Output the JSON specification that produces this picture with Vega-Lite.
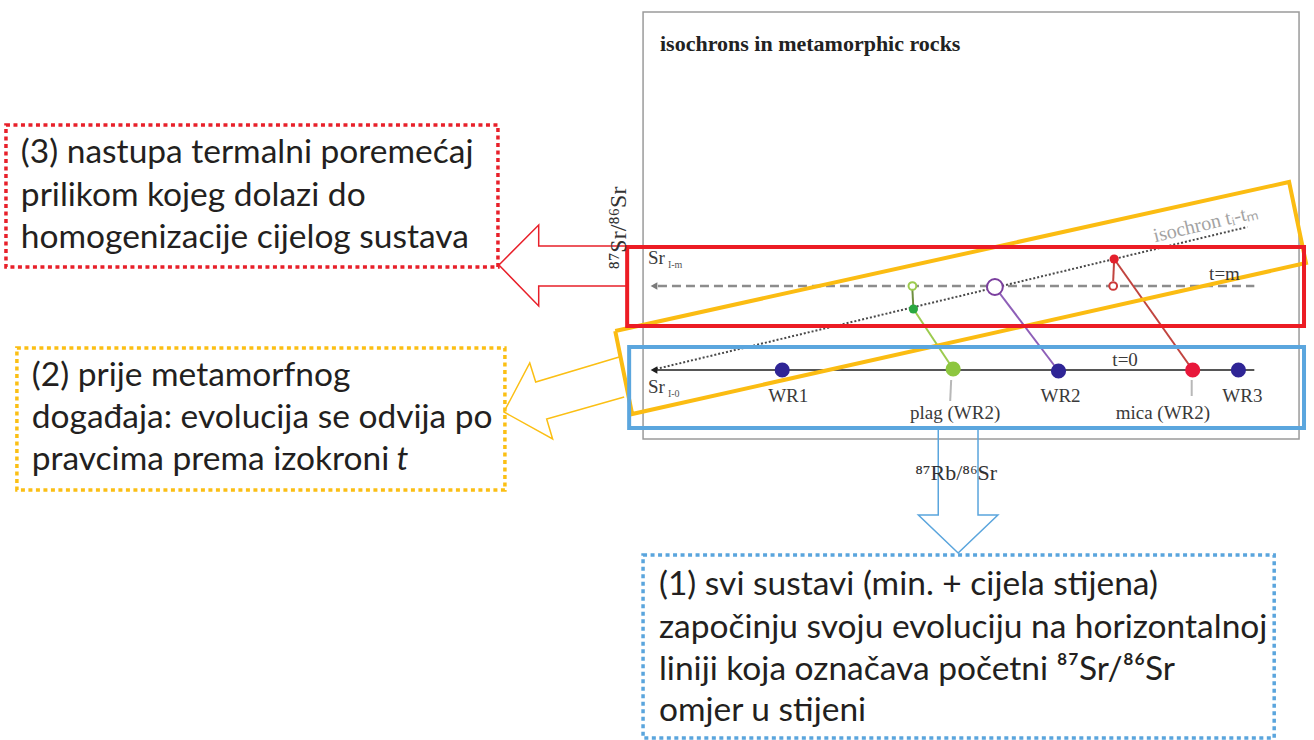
{
  "$schema": "https://vega.github.io/schema/vega-lite/v6.json",
  "width": 1314,
  "height": 740,
  "autosize": {"type": "fit", "contains": "padding"},
  "padding": 0,
  "background": "white",
  "config": {"view": {"stroke": null}},
  "resolve": {"scale": {"color": "independent", "size": "independent", "stroke": "independent"}},
  "layer": [
    {
      "data": {"values": [{"name": "frame", "x": 647, "x2": 1307, "y": 12, "y2": 439}]},
      "mark": {"type": "rect", "fillOpacity": 0, "stroke": "#9a9a9a", "strokeWidth": 1.5},
      "encoding": {
        "x": {"field": "x", "type": "quantitative", "scale": {"domain": [0, 1314], "nice": false, "zero": false}, "axis": null},
        "x2": {"field": "x2"},
        "y": {"field": "y", "type": "quantitative", "scale": {"domain": [0, 740], "nice": false, "zero": false, "reverse": true}, "axis": null},
        "y2": {"field": "y2"}
      }
    },
    {
      "data": {"values": [
        {"name": "d3", "x": 6, "x2": 501, "y": 125, "y2": 267},
        {"name": "d2", "x": 17, "x2": 508, "y": 348, "y2": 490},
        {"name": "d1", "x": 647, "x2": 1282, "y": 555, "y2": 738}
      ]},
      "mark": {"type": "rect", "fillOpacity": 0, "strokeWidth": 3.5, "strokeDash": [4, 3.5]},
      "encoding": {
        "x": {"field": "x", "type": "quantitative", "scale": {"domain": [0, 1314], "nice": false, "zero": false}, "axis": null},
        "x2": {"field": "x2"},
        "y": {"field": "y", "type": "quantitative", "scale": {"domain": [0, 740], "nice": false, "zero": false, "reverse": true}, "axis": null},
        "y2": {"field": "y2"},
        "stroke": {"field": "name", "type": "nominal", "scale": {"domain": ["d3", "d2", "d1"], "range": ["#e8202a", "#fbbf14", "#5aa5dd"]}, "legend": null}
      }
    },
    {
      "data": {"values": [
        {"poly": "redArrow", "ord": 1, "x": 630, "y": 246},
        {"poly": "redArrow", "ord": 2, "x": 542, "y": 246},
        {"poly": "redArrow", "ord": 3, "x": 542, "y": 225},
        {"poly": "redArrow", "ord": 4, "x": 502, "y": 265},
        {"poly": "redArrow", "ord": 5, "x": 542, "y": 306},
        {"poly": "redArrow", "ord": 6, "x": 542, "y": 286},
        {"poly": "redArrow", "ord": 7, "x": 630, "y": 286},
        {"poly": "orangeArrow", "ord": 1, "x": 623, "y": 357},
        {"poly": "orangeArrow", "ord": 2, "x": 539, "y": 382},
        {"poly": "orangeArrow", "ord": 3, "x": 533, "y": 363},
        {"poly": "orangeArrow", "ord": 4, "x": 507, "y": 412},
        {"poly": "orangeArrow", "ord": 5, "x": 556, "y": 439},
        {"poly": "orangeArrow", "ord": 6, "x": 550, "y": 419},
        {"poly": "orangeArrow", "ord": 7, "x": 628, "y": 397},
        {"poly": "blueArrow", "ord": 1, "x": 944, "y": 428},
        {"poly": "blueArrow", "ord": 2, "x": 944, "y": 515},
        {"poly": "blueArrow", "ord": 3, "x": 924, "y": 515},
        {"poly": "blueArrow", "ord": 4, "x": 964, "y": 553},
        {"poly": "blueArrow", "ord": 5, "x": 1004, "y": 515},
        {"poly": "blueArrow", "ord": 6, "x": 984, "y": 515},
        {"poly": "blueArrow", "ord": 7, "x": 984, "y": 428}
      ]},
      "mark": {"type": "line", "strokeWidth": 1.5, "strokeJoin": "miter"},
      "encoding": {
        "x": {"field": "x", "type": "quantitative", "scale": {"domain": [0, 1314], "nice": false, "zero": false}, "axis": null},
        "y": {"field": "y", "type": "quantitative", "scale": {"domain": [0, 740], "nice": false, "zero": false, "reverse": true}, "axis": null},
        "order": {"field": "ord", "type": "quantitative"},
        "detail": {"field": "poly", "type": "nominal"},
        "color": {"field": "poly", "type": "nominal", "scale": {"domain": ["redArrow", "orangeArrow", "blueArrow"], "range": ["#e8202a", "#fbbf14", "#5aa5dd"]}, "legend": null}
      }
    },
    {
      "data": {"values": [
        {"seg": "t0", "x": 660, "y": 370, "x2": 1262, "y2": 370}
      ]},
      "mark": {"type": "rule", "color": "#1e1e1e", "strokeWidth": 1.6},
      "encoding": {
        "x": {"field": "x", "type": "quantitative", "scale": {"domain": [0, 1314], "nice": false, "zero": false}, "axis": null},
        "x2": {"field": "x2"},
        "y": {"field": "y", "type": "quantitative", "scale": {"domain": [0, 740], "nice": false, "zero": false, "reverse": true}, "axis": null},
        "y2": {"field": "y2"}
      }
    },
    {
      "data": {"values": [
        {"seg": "tm", "x": 662, "y": 286, "x2": 1262, "y2": 286}
      ]},
      "mark": {"type": "rule", "color": "#8c8c8c", "strokeWidth": 2.5, "strokeDash": [9, 5]},
      "encoding": {
        "x": {"field": "x", "type": "quantitative", "scale": {"domain": [0, 1314], "nice": false, "zero": false}, "axis": null},
        "x2": {"field": "x2"},
        "y": {"field": "y", "type": "quantitative", "scale": {"domain": [0, 740], "nice": false, "zero": false, "reverse": true}, "axis": null},
        "y2": {"field": "y2"}
      }
    },
    {
      "data": {"values": [
        {"seg": "isochron", "x": 660, "y": 369, "x2": 1255, "y2": 227}
      ]},
      "mark": {"type": "rule", "color": "#4a4a4a", "strokeWidth": 2, "strokeDash": [2, 2]},
      "encoding": {
        "x": {"field": "x", "type": "quantitative", "scale": {"domain": [0, 1314], "nice": false, "zero": false}, "axis": null},
        "x2": {"field": "x2"},
        "y": {"field": "y", "type": "quantitative", "scale": {"domain": [0, 740], "nice": false, "zero": false, "reverse": true}, "axis": null},
        "y2": {"field": "y2"}
      }
    },
    {
      "data": {"values": [
        {"seg": "plagPath", "x": 959, "y": 369, "x2": 919, "y2": 309},
        {"seg": "plagUp", "x": 919, "y": 309, "x2": 918, "y2": 290},
        {"seg": "wr2Path", "x": 1065, "y": 371, "x2": 1001, "y2": 287},
        {"seg": "micaPath", "x": 1200, "y": 370, "x2": 1121, "y2": 259},
        {"seg": "micaDown", "x": 1121, "y": 259, "x2": 1120, "y2": 281},
        {"seg": "plagLeader", "x": 957, "y": 380, "x2": 956, "y2": 401},
        {"seg": "micaLeader", "x": 1199, "y": 380, "x2": 1199, "y2": 396}
      ]},
      "mark": {"type": "rule", "strokeWidth": 2},
      "encoding": {
        "x": {"field": "x", "type": "quantitative", "scale": {"domain": [0, 1314], "nice": false, "zero": false}, "axis": null},
        "x2": {"field": "x2"},
        "y": {"field": "y", "type": "quantitative", "scale": {"domain": [0, 740], "nice": false, "zero": false, "reverse": true}, "axis": null},
        "y2": {"field": "y2"},
        "color": {"field": "seg", "type": "nominal", "scale": {"domain": ["plagPath", "plagUp", "wr2Path", "micaPath", "micaDown", "plagLeader", "micaLeader"], "range": ["#9ccb4e", "#6f8f40", "#8e5fb8", "#c1443f", "#c1443f", "#b8b8b8", "#b8b8b8"]}, "legend": null}
      }
    },
    {
      "data": {"values": [
        {"head": "t0", "x": 658, "y": 370},
        {"head": "tm", "x": 658, "y": 286}
      ]},
      "mark": {"type": "point", "shape": "triangle-left", "filled": true, "size": 60, "opacity": 1},
      "encoding": {
        "x": {"field": "x", "type": "quantitative", "scale": {"domain": [0, 1314], "nice": false, "zero": false}, "axis": null},
        "y": {"field": "y", "type": "quantitative", "scale": {"domain": [0, 740], "nice": false, "zero": false, "reverse": true}, "axis": null},
        "color": {"field": "head", "type": "nominal", "scale": {"domain": ["t0", "tm"], "range": ["#1e1e1e", "#7a7a7a"]}, "legend": null}
      }
    },
    {
      "data": {"values": [
        {"poly": "isoBox", "ord": 1, "x": 619, "y": 331},
        {"poly": "isoBox", "ord": 2, "x": 1297, "y": 182},
        {"poly": "isoBox", "ord": 3, "x": 1314, "y": 263},
        {"poly": "isoBox", "ord": 4, "x": 636, "y": 414},
        {"poly": "isoBox", "ord": 5, "x": 619, "y": 331}
      ]},
      "mark": {"type": "line", "strokeWidth": 4, "color": "#fbbc12", "strokeJoin": "miter"},
      "encoding": {
        "x": {"field": "x", "type": "quantitative", "scale": {"domain": [0, 1314], "nice": false, "zero": false}, "axis": null},
        "y": {"field": "y", "type": "quantitative", "scale": {"domain": [0, 740], "nice": false, "zero": false, "reverse": true}, "axis": null},
        "order": {"field": "ord", "type": "quantitative"},
        "detail": {"field": "poly", "type": "nominal"}
      }
    },
    {
      "data": {"values": [
        {"name": "red", "x": 631, "x2": 1312, "y": 247, "y2": 326},
        {"name": "blue", "x": 633, "x2": 1312, "y": 347, "y2": 428}
      ]},
      "mark": {"type": "rect", "fillOpacity": 0, "strokeWidth": 4},
      "encoding": {
        "x": {"field": "x", "type": "quantitative", "scale": {"domain": [0, 1314], "nice": false, "zero": false}, "axis": null},
        "x2": {"field": "x2"},
        "y": {"field": "y", "type": "quantitative", "scale": {"domain": [0, 740], "nice": false, "zero": false, "reverse": true}, "axis": null},
        "y2": {"field": "y2"},
        "stroke": {"field": "name", "type": "nominal", "scale": {"domain": ["red", "blue"], "range": ["#ec1c24", "#5ba6de"]}, "legend": null}
      }
    },
    {
      "data": {"values": [
        {"kind": "WR", "label": "WR1", "x": 787, "y": 370},
        {"kind": "plag", "label": "plag", "x": 959, "y": 369},
        {"kind": "WR", "label": "WR2", "x": 1065, "y": 371},
        {"kind": "mica", "label": "mica", "x": 1200, "y": 370},
        {"kind": "WR", "label": "WR3", "x": 1246, "y": 370}
      ]},
      "mark": {"type": "point", "filled": true, "opacity": 1, "shape": "circle", "size": 230},
      "encoding": {
        "x": {"field": "x", "type": "quantitative", "scale": {"domain": [0, 1314], "nice": false, "zero": false}, "axis": null},
        "y": {"field": "y", "type": "quantitative", "scale": {"domain": [0, 740], "nice": false, "zero": false, "reverse": true}, "axis": null},
        "color": {"field": "kind", "type": "nominal", "scale": {"domain": ["WR", "plag", "mica"], "range": ["#2f2596", "#8dc63f", "#e8173a"]}, "legend": null}
      }
    },
    {
      "data": {"values": [
        {"kind": "plagM", "label": "plag at t=m", "x": 919, "y": 309},
        {"kind": "micaM", "label": "mica at t=m", "x": 1121, "y": 259}
      ]},
      "mark": {"type": "point", "filled": true, "opacity": 1, "shape": "circle", "size": 85},
      "encoding": {
        "x": {"field": "x", "type": "quantitative", "scale": {"domain": [0, 1314], "nice": false, "zero": false}, "axis": null},
        "y": {"field": "y", "type": "quantitative", "scale": {"domain": [0, 740], "nice": false, "zero": false, "reverse": true}, "axis": null},
        "color": {"field": "kind", "type": "nominal", "scale": {"domain": ["plagM", "micaM"], "range": ["#2aa840", "#e3202c"]}, "legend": null}
      }
    },
    {
      "data": {"values": [
        {"kind": "plagO", "x": 918, "y": 286},
        {"kind": "micaO", "x": 1120, "y": 286}
      ]},
      "mark": {"type": "point", "filled": false, "opacity": 1, "shape": "circle", "strokeWidth": 2, "fill": "white", "fillOpacity": 1, "size": 60},
      "encoding": {
        "x": {"field": "x", "type": "quantitative", "scale": {"domain": [0, 1314], "nice": false, "zero": false}, "axis": null},
        "y": {"field": "y", "type": "quantitative", "scale": {"domain": [0, 740], "nice": false, "zero": false, "reverse": true}, "axis": null},
        "stroke": {"field": "kind", "type": "nominal", "scale": {"domain": ["plagO", "micaO"], "range": ["#9ccb4e", "#cc3a3a"]}, "legend": null}
      }
    },
    {
      "data": {"values": [
        {"kind": "wrO", "x": 1001, "y": 287}
      ]},
      "mark": {"type": "point", "filled": false, "opacity": 1, "shape": "circle", "strokeWidth": 2, "fill": "white", "fillOpacity": 1, "size": 250, "stroke": "#7b3f9e"},
      "encoding": {
        "x": {"field": "x", "type": "quantitative", "scale": {"domain": [0, 1314], "nice": false, "zero": false}, "axis": null},
        "y": {"field": "y", "type": "quantitative", "scale": {"domain": [0, 740], "nice": false, "zero": false, "reverse": true}, "axis": null}
      }
    },
    {
      "data": {"values": [
        {"t": "(3) nastupa termalni poremećaj", "x": 21, "y": 163},
        {"t": "prilikom kojeg dolazi do", "x": 21, "y": 206},
        {"t": "homogenizacije cijelog sustava", "x": 21, "y": 248},
        {"t": "(2) prije metamorfnog", "x": 32, "y": 386},
        {"t": "događaja: evolucija se odvija po", "x": 32, "y": 428},
        {"t": "pravcima prema izokroni", "x": 32, "y": 470},
        {"t": "(1) svi sustavi (min. + cijela stijena)", "x": 663, "y": 595},
        {"t": "započinju svoju evoluciju na horizontalnoj", "x": 663, "y": 638},
        {"t": "liniji koja označava početni ⁸⁷Sr/⁸⁶Sr", "x": 663, "y": 680},
        {"t": "omjer u stijeni", "x": 663, "y": 721}
      ]},
      "mark": {"type": "text", "font": "Lato", "fontSize": 33.5, "align": "left", "baseline": "alphabetic", "color": "#231f20"},
      "encoding": {
        "x": {"field": "x", "type": "quantitative", "scale": {"domain": [0, 1314], "nice": false, "zero": false}, "axis": null},
        "y": {"field": "y", "type": "quantitative", "scale": {"domain": [0, 740], "nice": false, "zero": false, "reverse": true}, "axis": null},
        "text": {"field": "t"}
      }
    },
    {
      "data": {"values": [{"t": "t", "x": 399, "y": 470}]},
      "mark": {"type": "text", "font": "Lato", "fontSize": 33.5, "fontStyle": "italic", "align": "left", "baseline": "alphabetic", "color": "#231f20"},
      "encoding": {
        "x": {"field": "x", "type": "quantitative", "scale": {"domain": [0, 1314], "nice": false, "zero": false}, "axis": null},
        "y": {"field": "y", "type": "quantitative", "scale": {"domain": [0, 740], "nice": false, "zero": false, "reverse": true}, "axis": null},
        "text": {"field": "t"}
      }
    },
    {
      "data": {"values": [{"t": "isochrons in metamorphic rocks", "x": 664, "y": 51}]},
      "mark": {"type": "text", "font": "Liberation Serif", "fontSize": 22, "fontWeight": "bold", "align": "left", "baseline": "alphabetic", "color": "#222222"},
      "encoding": {
        "x": {"field": "x", "type": "quantitative", "scale": {"domain": [0, 1314], "nice": false, "zero": false}, "axis": null},
        "y": {"field": "y", "type": "quantitative", "scale": {"domain": [0, 740], "nice": false, "zero": false, "reverse": true}, "axis": null},
        "text": {"field": "t"}
      }
    },
    {
      "data": {"values": [
        {"t": "WR1", "x": 793, "y": 396},
        {"t": "plag (WR2)", "x": 961, "y": 413},
        {"t": "WR2", "x": 1067, "y": 396},
        {"t": "mica (WR2)", "x": 1170, "y": 413},
        {"t": "WR3", "x": 1250, "y": 396},
        {"t": "t=0", "x": 1132, "y": 360},
        {"t": "t=m", "x": 1232, "y": 274}
      ]},
      "mark": {"type": "text", "font": "Liberation Serif", "fontSize": 19, "align": "center", "baseline": "middle", "color": "#3a3a3a"},
      "encoding": {
        "x": {"field": "x", "type": "quantitative", "scale": {"domain": [0, 1314], "nice": false, "zero": false}, "axis": null},
        "y": {"field": "y", "type": "quantitative", "scale": {"domain": [0, 740], "nice": false, "zero": false, "reverse": true}, "axis": null},
        "text": {"field": "t"}
      }
    },
    {
      "data": {"values": [
        {"t": "Sr", "x": 652, "y": 264},
        {"t": "Sr", "x": 652, "y": 393}
      ]},
      "mark": {"type": "text", "font": "Liberation Serif", "fontSize": 19, "align": "left", "baseline": "alphabetic", "color": "#3a3a3a"},
      "encoding": {
        "x": {"field": "x", "type": "quantitative", "scale": {"domain": [0, 1314], "nice": false, "zero": false}, "axis": null},
        "y": {"field": "y", "type": "quantitative", "scale": {"domain": [0, 740], "nice": false, "zero": false, "reverse": true}, "axis": null},
        "text": {"field": "t"}
      }
    },
    {
      "data": {"values": [
        {"t": "I-m", "x": 672, "y": 268},
        {"t": "I-0", "x": 672, "y": 397}
      ]},
      "mark": {"type": "text", "font": "Liberation Serif", "fontSize": 10, "align": "left", "baseline": "alphabetic", "color": "#555555"},
      "encoding": {
        "x": {"field": "x", "type": "quantitative", "scale": {"domain": [0, 1314], "nice": false, "zero": false}, "axis": null},
        "y": {"field": "y", "type": "quantitative", "scale": {"domain": [0, 740], "nice": false, "zero": false, "reverse": true}, "axis": null},
        "text": {"field": "t"}
      }
    },
    {
      "data": {"values": [{"t": "isochron tᵢ-tₘ", "x": 1213, "y": 224}]},
      "mark": {"type": "text", "font": "Liberation Serif", "fontSize": 20, "align": "center", "baseline": "middle", "color": "#a3a3a3", "angle": 346.6},
      "encoding": {
        "x": {"field": "x", "type": "quantitative", "scale": {"domain": [0, 1314], "nice": false, "zero": false}, "axis": null},
        "y": {"field": "y", "type": "quantitative", "scale": {"domain": [0, 740], "nice": false, "zero": false, "reverse": true}, "axis": null},
        "text": {"field": "t"}
      }
    },
    {
      "data": {"values": [{"t": "⁸⁷Sr/⁸⁶Sr", "x": 623, "y": 228}]},
      "mark": {"type": "text", "font": "Liberation Serif", "fontSize": 24, "align": "center", "baseline": "middle", "color": "#333333", "angle": 270},
      "encoding": {
        "x": {"field": "x", "type": "quantitative", "scale": {"domain": [0, 1314], "nice": false, "zero": false}, "axis": null},
        "y": {"field": "y", "type": "quantitative", "scale": {"domain": [0, 740], "nice": false, "zero": false, "reverse": true}, "axis": null},
        "text": {"field": "t"}
      }
    },
    {
      "data": {"values": [{"t": "⁸⁷Rb/⁸⁶Sr", "x": 962, "y": 473}]},
      "mark": {"type": "text", "font": "Liberation Serif", "fontSize": 22, "align": "center", "baseline": "middle", "color": "#333333"},
      "encoding": {
        "x": {"field": "x", "type": "quantitative", "scale": {"domain": [0, 1314], "nice": false, "zero": false}, "axis": null},
        "y": {"field": "y", "type": "quantitative", "scale": {"domain": [0, 740], "nice": false, "zero": false, "reverse": true}, "axis": null},
        "text": {"field": "t"}
      }
    }
  ]
}
